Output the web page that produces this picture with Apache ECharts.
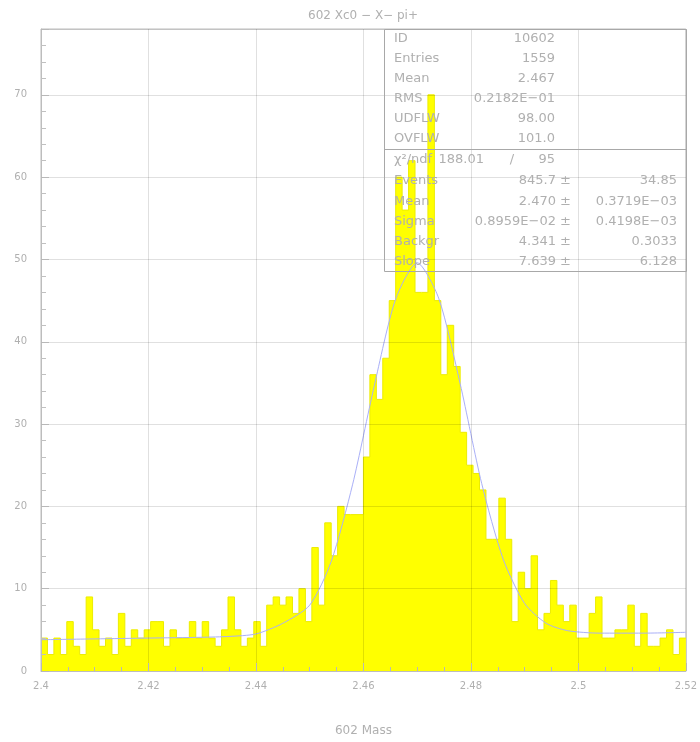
<!DOCTYPE html>
<html>
<head>
<meta charset="utf-8">
<script src="https://cdn.jsdelivr.net/npm/echarts@6/dist/echarts.min.js"></script>
<style>
html,body{margin:0;padding:0;background:#fff;}
#chart{width:700px;height:742px;}
</style>
</head>
<body>
<div id="chart"></div>
<script>
// ---- data ----
const binStart = 2.4;
const binWidth = 0.0012;
const counts = [
  4,2,4,2,6,3,2,9,5,3,
  4,2,7,3,5,4,5,6,6,3,
  5,4,4,6,4,6,4,3,5,9,
  5,3,4,6,3,8,9,8,9,7,
  10,6,15,8,18,14,20,19,19,19,
  26,36,33,38,45,60,56,62,46,46,
  70,45,36,42,37,29,25,24,22,16,
  16,21,16,6,12,10,14,5,7,11,
  8,6,8,4,4,7,9,4,4,5,
  5,8,3,7,3,3,4,5,2,4
];
// fitted curve, points
const fitX = [2.400,2.410,2.420,2.430,2.435,2.440,2.445,2.450,2.454,2.458,2.462,2.466,2.470,2.474,2.478,2.482,2.486,2.490,2.494,2.498,2.504,2.512,2.520];
const fitY = [3.8, 3.9, 4.0, 4.1, 4.2, 4.5, 5.8, 8.0, 13.3, 22.7, 34.6, 45.2, 49.6, 45.3, 34.9, 22.8, 13.6, 8.2, 5.8, 4.9, 4.6, 4.6, 4.7];
const xMin = 2.4, xMax = 2.52, xStep = 0.02;
const yMin = 0, yMax = 78, yStep = 10;

const titleText = '602 Xc0 \u2212 X\u2212 pi+';
const xName = '602 Mass';
const statsTop = [
  ['ID', '10602'],
  ['Entries', '1559'],
  ['Mean', '2.467'],
  ['RMS', '0.2182E\u221201'],
  ['UDFLW', '98.00'],
  ['OVFLW', '101.0']
];
const fitStats = [
  ['Events', '845.7 \u00b1', '34.85'],
  ['Mean', '2.470 \u00b1', '0.3719E\u221203'],
  ['Sigma', '0.8959E\u221202 \u00b1', '0.4198E\u221203'],
  ['Backgr', '4.341 \u00b1', '0.3033'],
  ['Slope', '7.639 \u00b1', '6.128']
];
const chi2 = ['\u03c7\u00b2/ndf', '188.01', '/', '95'];

// ---- build ----
const histData = counts.map((c, i) => [binStart + i * binWidth, c]);
histData.push([binStart + counts.length * binWidth, counts[counts.length - 1]]);
const fitData = fitX.map((x, i) => [x, fitY[i]]);

const txtColor = '#b0b0b0';
const font = 'DejaVu Sans, sans-serif';

const graphics = [];
graphics.push({type:'rect', shape:{x:384.5, y:29.5, width:302, height:242}, style:{fill:'none', stroke:'#a8a8a8', lineWidth:1}, z:100});
graphics.push({type:'line', shape:{x1:384.5, y1:149.5, x2:686.5, y2:149.5}, style:{stroke:'#a8a8a8', lineWidth:1}, z:100});
statsTop.forEach((r, i) => {
  const y = 39 + i * 20;
  graphics.push({type:'text', x:394, y:y, style:{text:r[0], fill:txtColor, font:'13px ' + font, textVerticalAlign:'middle', textAlign:'left'}, z:101});
  graphics.push({type:'text', x:555, y:y, style:{text:r[1], fill:txtColor, font:'13px ' + font, textVerticalAlign:'middle', textAlign:'right'}, z:101});
});
graphics.push({type:'text', x:394, y:160, style:{text:chi2[0], fill:txtColor, font:'13px ' + font, textVerticalAlign:'middle', textAlign:'left'}, z:101});
graphics.push({type:'text', x:484, y:160, style:{text:chi2[1], fill:txtColor, font:'13px ' + font, textVerticalAlign:'middle', textAlign:'right'}, z:101});
graphics.push({type:'text', x:512, y:160, style:{text:chi2[2], fill:txtColor, font:'13px ' + font, textVerticalAlign:'middle', textAlign:'center'}, z:101});
graphics.push({type:'text', x:555, y:160, style:{text:chi2[3], fill:txtColor, font:'13px ' + font, textVerticalAlign:'middle', textAlign:'right'}, z:101});
fitStats.forEach((r, i) => {
  const y = 181 + i * 20.2;
  graphics.push({type:'text', x:394, y:y, style:{text:r[0], fill:txtColor, font:'13px ' + font, textVerticalAlign:'middle', textAlign:'left'}, z:101});
  graphics.push({type:'text', x:571, y:y, style:{text:r[1], fill:txtColor, font:'13px ' + font, textVerticalAlign:'middle', textAlign:'right'}, z:101});
  graphics.push({type:'text', x:677, y:y, style:{text:r[2], fill:txtColor, font:'13px ' + font, textVerticalAlign:'middle', textAlign:'right'}, z:101});
});

const chart = echarts.init(document.getElementById('chart'), null, {renderer:'canvas'});
chart.setOption({
  animation: false,
  backgroundColor: '#fff',
  title: {
    text: titleText, left: 358, top: 5, textAlign: 'center',
    textStyle: {color: txtColor, fontSize: 12, fontWeight: 'normal', fontFamily: font}
  },
  grid: {left: 41, right: 14, top: 29, bottom: 68, show: true, borderColor: '#bdbdbd', borderWidth: 1, backgroundColor: 'transparent'},
  xAxis: {
    type: 'value', min: xMin, max: xMax, interval: xStep, z: 5,
    name: xName, nameLocation: 'middle', nameGap: 54,
    nameTextStyle: {color: txtColor, fontSize: 12, fontFamily: font},
    axisLine: {show: true, onZero: false, lineStyle: {color: '#bdbdbd'}},
    axisTick: {show: true, inside: true, length: 8, lineStyle: {color: '#b8b8b8'}},
    minorTick: {show: true, splitNumber: 4, length: 4, lineStyle: {color: '#b8b8b8'}},
    axisLabel: {color: txtColor, fontSize: 10, fontFamily: font, margin: 10,
      formatter: v => String(Math.round(v * 100) / 100)},
    splitLine: {show: true, lineStyle: {color: 'rgba(0,0,0,0.12)', width: 1}}
  },
  yAxis: {
    type: 'value', min: yMin, max: yMax, interval: yStep, z: 5,
    axisLine: {show: true, lineStyle: {color: '#bdbdbd'}},
    axisTick: {show: true, inside: true, length: 8, lineStyle: {color: '#b8b8b8'}},
    minorTick: {show: true, splitNumber: 5, length: 5, lineStyle: {color: '#c0c0c0'}},
    axisLabel: {color: txtColor, fontSize: 10, fontFamily: font, margin: 14, showMaxLabel: false},
    splitLine: {show: true, lineStyle: {color: 'rgba(0,0,0,0.12)', width: 1}}
  },
  series: [
    {
      type: 'line', step: 'end', data: histData, symbol: 'none', z: 2,
      lineStyle: {color: '#ecec00', width: 1},
      areaStyle: {color: '#ffff00', opacity: 1, origin: 'start'}
    },
    {
      type: 'line', data: fitData, symbol: 'none', smooth: 0.25, z: 3,
      lineStyle: {color: '#aab0f8', width: 1}
    }
  ],
  graphic: graphics
});
</script>
</body>
</html>
